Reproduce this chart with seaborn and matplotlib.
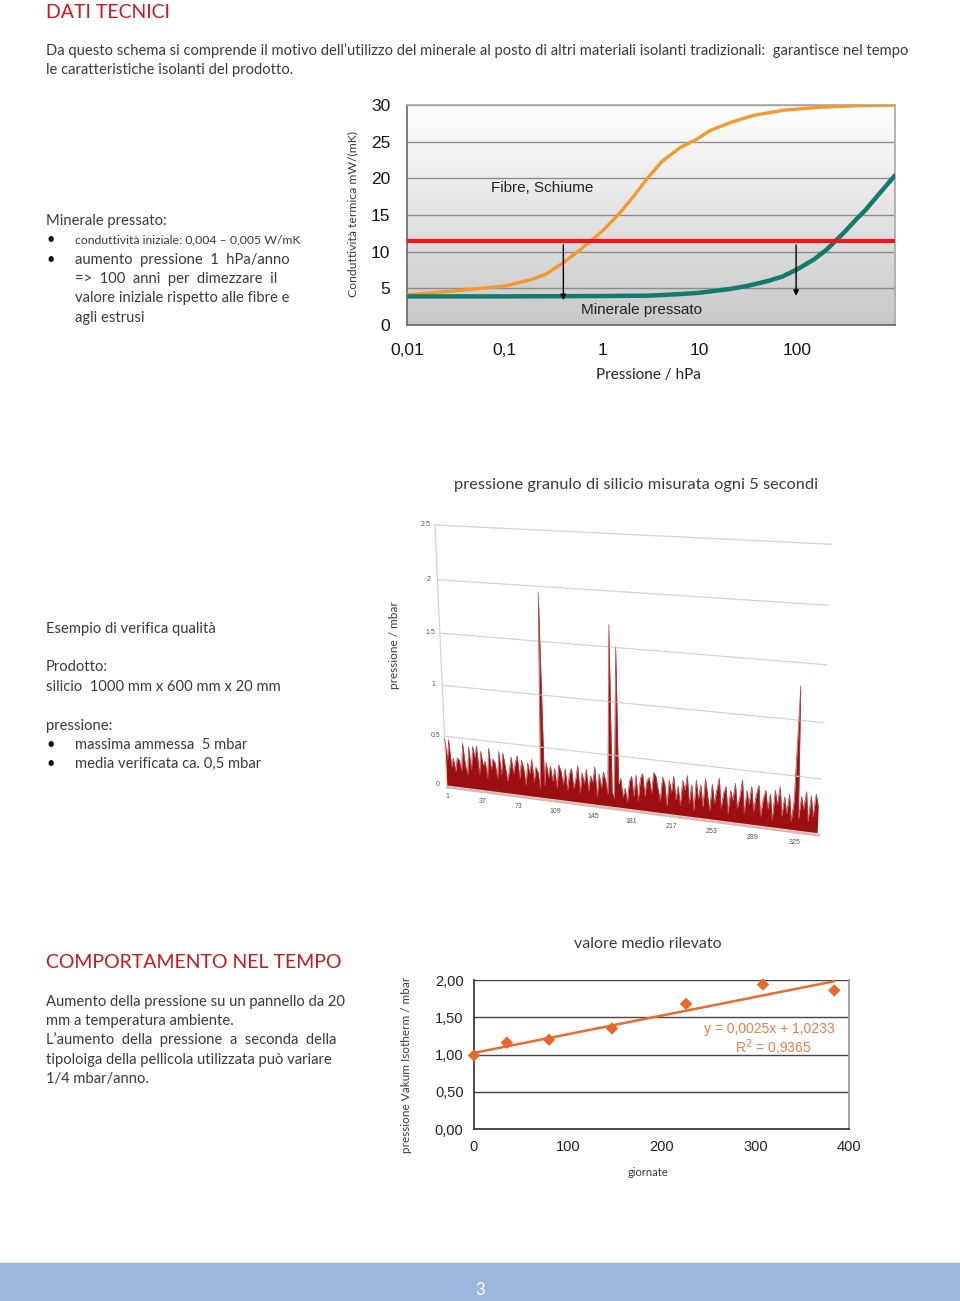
import numpy as np
import matplotlib
matplotlib.use("Agg")
import matplotlib.pyplot as plt
import matplotlib.transforms as mtransforms
from matplotlib.patches import Rectangle
import seaborn as sns

# chart 1: conduttivita termica vs pressione
fibre_x = [0.01, 0.028, 0.1, 0.19, 0.27, 0.4, 0.6, 1.0, 1.5, 2.0, 2.9, 4.1, 6.3, 9.2, 12.7, 21.5, 36, 73, 175, 420, 1000]
fibre_y = [4.1, 4.6, 5.3, 6.2, 7.0, 8.5, 10.3, 12.8, 15.2, 17.2, 20.0, 22.3, 24.2, 25.3, 26.5, 27.7, 28.6, 29.3, 29.7, 29.9, 30.0]
mineral_x = [0.01, 0.1, 1, 3, 6, 10, 20, 30, 50, 70, 100, 150, 200, 300, 400, 500, 700, 1000]
mineral_y = [3.9, 3.9, 3.95, 4.0, 4.2, 4.4, 4.9, 5.3, 6.0, 6.6, 7.6, 9.0, 10.3, 12.6, 14.4, 15.7, 18.0, 20.4]
soglia = 11.5
arrow_x = [0.4, 97]
press_ticks = [0.01, 0.1, 1, 10, 100]
press_labels = ["0,01", "0,1", "1", "10", "100"]

# chart 2: pressione granulo ogni 5 secondi (un valore ogni 2 misure)
granulo = [0.48, 0.26, 0.47, 0.20, 0.29, 0.16, 0.30, 0.28, 0.17, 0.45, 0.24, 0.14,
           0.42, 0.19, 0.43, 0.32, 0.44, 0.15, 0.39, 0.25, 0.30, 0.13, 0.43, 0.22,
           0.33, 0.29, 0.14, 0.41, 0.18, 0.40, 0.27, 0.13, 0.24, 0.37, 0.21, 0.32,
           0.39, 0.17, 0.35, 0.28, 0.11, 0.33, 0.23, 0.37, 0.15, 0.30, 0.25, 0.09,
           1.95, 0.13, 0.36, 0.21, 0.33, 0.18, 0.31, 0.12, 0.35, 0.29, 0.16, 0.32,
           0.11, 0.27, 0.33, 0.14, 0.23, 0.36, 0.10, 0.30, 0.19, 0.34, 0.13, 0.28,
           0.22, 0.37, 0.08, 0.31, 0.17, 0.33, 0.25, 0.12, 1.70, 0.15, 0.09, 1.50,
           0.23, 0.29, 0.11, 0.20, 0.07, 0.27, 0.32, 0.13, 0.34, 0.09, 0.31, 0.36,
           0.15, 0.30, 0.33, 0.18, 0.38, 0.35, 0.23, 0.12, 0.35, 0.29, 0.08, 0.33,
           0.21, 0.37, 0.15, 0.28, 0.10, 0.34, 0.25, 0.39, 0.13, 0.31, 0.07, 0.36,
           0.18, 0.32, 0.11, 0.38, 0.23, 0.09, 0.34, 0.16, 0.29, 0.40, 0.12, 0.27,
           0.33, 0.08, 0.30, 0.21, 0.37, 0.14, 0.25, 0.41, 0.10, 0.32, 0.19, 0.36,
           0.13, 0.29, 0.38, 0.09, 0.26, 0.34, 0.17, 0.31, 0.07, 0.35, 0.22, 0.39,
           0.12, 0.30, 0.15, 0.33, 0.08, 0.28, 1.30, 0.11, 0.32, 0.21, 0.37, 0.10,
           0.34, 0.15, 0.36, 0.25]
granulo_x = np.arange(1, 2 * len(granulo), 2)
granulo_ticks = [1, 37, 73, 109, 145, 181, 217, 253, 289, 325]
granulo_yticks = [0, 0.5, 1, 1.5, 2, 2.5]
granulo_ylabels = ["0", "0.5", "1", "1.5", "2", "2.5"]

# chart 3: valore medio rilevato
giorni = [0, 35, 80, 147, 226, 308, 384]
medio = [0.99, 1.16, 1.20, 1.35, 1.68, 1.94, 1.86]
coef_a, coef_b = 0.0025, 1.0233

W, H = 960, 1301
sns.set_theme(style="white")
plt.rcParams['font.family'] = ['Lato', 'DejaVu Sans']
fig = plt.figure(figsize=(W / 100, H / 100), dpi=100)

def fx(x):
    return x / W

def fy(y):
    return 1 - y / H

TXT = '#3a3a3a'
RED = '#d3141c'
ARIAL = ['Liberation Sans', 'DejaVu Sans']

def t(x, y, s, size=10.65, color=TXT, **kw):
    fig.text(fx(x), fy(y), s, fontsize=size, color=color, va='center', **kw)

# page texts
t(46, 12, "DATI TECNICI", 14, RED)
t(46, 51, "Da questo schema si comprende il motivo dell’utilizzo del minerale al posto di altri materiali isolanti tradizionali:  garantisce nel tempo")
t(46, 70, "le caratteristiche isolanti del prodotto.")
t(46, 221, "Minerale pressato:")
for yy in [240, 260]:
    t(46, yy, "•", 10.5, '#111')
t(75, 240, "conduttività iniziale: 0,004 – 0,005 W/mK", 8.8)
t(75, 260, "aumento  pressione  1  hPa/anno")
t(75, 279, "=>  100  anni  per  dimezzare  il")
t(75, 298, "valore iniziale rispetto alle fibre e")
t(75, 318, "agli estrusi")

t(46, 629, "Esempio di verifica qualità")
t(46, 667, "Prodotto:")
t(46, 687, "silicio  1000 mm x 600 mm x 20 mm")
t(46, 726, "pressione:")
for yy in [745, 764]:
    t(46, yy, "•", 10.5, '#111')
t(75, 745, "massima ammessa  5 mbar")
t(75, 764, "media verificata ca. 0,5 mbar")

t(46, 962, "COMPORTAMENTO NEL TEMPO", 14, RED)
t(46, 1002, "Aumento della pressione su un pannello da 20")
t(46, 1021, "mm a temperatura ambiente.")
t(46, 1040, "L’aumento  della  pressione  a  seconda  della")
t(46, 1060, "tipoloiga della pellicola utilizzata può variare")
t(46, 1079, "1/4 mbar/anno.")

# footer band
fig.patches.append(Rectangle((0, 0), 1, (H - 1263) / H,
                             transform=fig.transFigure, color='#9db6dc', zorder=0))
t(480, 1290, "3", 12, 'white', ha='center')

# ---------- chart 1 ----------
ax1 = fig.add_axes([fx(407), fy(325), 488 / W, 220 / H])
grad = np.linspace(0, 1, 256).reshape(-1, 1)
ax1.imshow(grad, extent=[0, 1, 0, 1], transform=ax1.transAxes, aspect='auto',
           cmap=matplotlib.colors.LinearSegmentedColormap.from_list('g', ['#c8c8c8', '#ffffff']),
           origin='lower', zorder=0)
ax1.set_xscale('log')
ax1.set_xlim(0.01, 1000)
ax1.set_ylim(0, 30)
for v in range(5, 31, 5):
    ax1.axhline(v, color='#8c8c8c', lw=1, zorder=1)
sns.lineplot(x=fibre_x, y=fibre_y, ax=ax1, color='#f39a2e', lw=2.4, zorder=3,
             solid_joinstyle='round')
sns.lineplot(x=mineral_x, y=mineral_y, ax=ax1, color='#137a6c', lw=3.2, zorder=3,
             solid_joinstyle='round')
ax1.axhline(soglia, color='#ec1620', lw=3, zorder=4)
for ax_x, tip in zip(arrow_x, [3.0, 3.6]):
    ax1.annotate('', xy=(ax_x, tip), xytext=(ax_x, 11.3),
                 arrowprops=dict(arrowstyle='-|>', color='black', lw=1, mutation_scale=8), zorder=5)
ax1.text(0.073, 18.7, "Fibre, Schiume", fontsize=11, family=ARIAL, color='#222', va='center')
ax1.text(0.6, 2.1, "Minerale pressato", fontsize=11, family=ARIAL, color='#222', va='center')
ax1.set_xticks(press_ticks)
ax1.set_xticklabels(press_labels)
ax1.minorticks_off()
ax1.set_yticks(range(0, 31, 5))
ax1.tick_params(axis='both', labelsize=12.5, colors='#151515', length=0)
ax1.tick_params(axis='x', length=5, color='#777', direction='out', pad=8)
for lab in ax1.get_xticklabels() + ax1.get_yticklabels():
    lab.set_family(ARIAL)
ax1.tick_params(axis='y', pad=12)
for s in ['top', 'right']:
    ax1.spines[s].set_color('#aaaaaa')
for s in ['left', 'bottom']:
    ax1.spines[s].set_color('#666666')
    ax1.spines[s].set_linewidth(1.2)
t(353, 214, "Conduttività termica mW/(mK)", 8.8, TXT, rotation=90, ha='center')
t(648, 375, "Pressione / hPa", 11, '#222', ha='center')

# ---------- chart 2 (3D-like perspective area) ----------
def homography(src, dst):
    A, b = [], []
    for (u, v), (X, Y) in zip(src, dst):
        A.append([u, v, 1, 0, 0, 0, -u * X, -v * X]); b.append(X)
        A.append([0, 0, 0, u, v, 1, -u * Y, -v * Y]); b.append(Y)
    h = np.linalg.solve(np.array(A, float), np.array(b, float))
    return np.append(h, 1).reshape(3, 3)

class Warp(mtransforms.Transform):
    input_dims = output_dims = 2
    def __init__(self, M):
        super().__init__()
        self.M = M
    def transform_non_affine(self, values):
        v = np.atleast_2d(np.asarray(values, float))
        p = np.column_stack([v, np.ones(len(v))]) @ self.M.T
        out = p[:, :2] / p[:, 2:3]
        return out.reshape(np.shape(values))

corners_img = [(446.7, 786), (819.5, 834), (435, 525), (831.7, 544.3)]
Hm = homography([(0, 0), (1, 0), (0, 1), (1, 1)], [(x, H - y) for x, y in corners_img])

ax2 = fig.add_axes([fx(420), fy(850), 430 / W, 340 / H])
ax2.set_xlim(1, 345)
ax2.set_ylim(0, 2.5)
ax2.axis('off')
warp = ax2.transScale + ax2.transLimits + Warp(Hm)
for v in granulo_yticks:
    ax2.plot([1, 345], [v, v], transform=warp, color='#d4d4d4', lw=0.9, clip_on=False)
ax2.plot([1, 1], [0, 2.5], transform=warp, color='#d4d4d4', lw=0.9, clip_on=False)
ax2.fill_between(granulo_x, 0, granulo, transform=warp, color='#9c0e10', lw=0, clip_on=False)
ax2.plot(granulo_x, granulo, transform=warp, color='#b84040', lw=0.5, clip_on=False)
ax2.plot([1, 345], [-0.015, -0.015], transform=warp, color='#e4b4b4', lw=1.5, clip_on=False)
for v, lab in zip(granulo_yticks, granulo_ylabels):
    ax2.text(-8, v, lab, transform=warp, fontsize=5, family=ARIAL, color='#555',
             ha='center', va='center', clip_on=False)
for v in granulo_ticks:
    ax2.text(v, -0.11, str(v), transform=warp, fontsize=5, family=ARIAL, color='#555',
             ha='center', va='center', clip_on=False)
t(636, 485, "pressione granulo di silicio misurata ogni 5 secondi", 11.8, TXT, ha='center')
t(394, 645, "pressione / mbar", 8.5, TXT, rotation=90, ha='center')

# ---------- chart 3 ----------
ax3 = fig.add_axes([fx(474), fy(1129.3), 375.3 / W, 149.3 / H])
ax3.set_xlim(0, 400)
ax3.set_ylim(0, 2)
for v in [0.5, 1.0, 1.5, 2.0]:
    ax3.axhline(v, color='#444444', lw=1, zorder=1)
xs = np.array([0, giorni[-1]])
ax3.plot(xs, coef_a * xs + coef_b, color='#ec6a2c', lw=1.8, zorder=2)
sns.scatterplot(x=giorni, y=medio, ax=ax3, marker='D', s=40, color='#e8682c',
                edgecolor='none', zorder=3, clip_on=False)
ax3.text(384, 1.35, "y = 0,0025x + 1,0233", fontsize=10, family=ARIAL, color='#f07b45',
         ha='right', va='center')
ax3.text(319, 1.09, "R$^2$ = 0,9365", fontsize=10, family=ARIAL, color='#f07b45',
         ha='center', va='center')
ax3.set_xticks([0, 100, 200, 300, 400])
ax3.set_yticks([0, 0.5, 1, 1.5, 2])
ax3.set_yticklabels(["0,00", "0,50", "1,00", "1,50", "2,00"])
ax3.tick_params(axis='both', labelsize=10.5, colors='#222', length=4, direction='out', width=1)
for lab in ax3.get_xticklabels() + ax3.get_yticklabels():
    lab.set_family(ARIAL)
ax3.spines['top'].set_visible(False)
ax3.spines['right'].set_color('#999999')
for s in ['left', 'bottom']:
    ax3.spines[s].set_color('#333333')
t(648, 944, "valore medio rilevato", 11.5, TXT, ha='center')
t(406, 1065, "pressione Vakum Isotherm / mbar", 8.5, TXT, rotation=90, ha='center')
t(648, 1173, "giornate", 8, TXT, ha='center')

fig.savefig("out.png", dpi=100)
